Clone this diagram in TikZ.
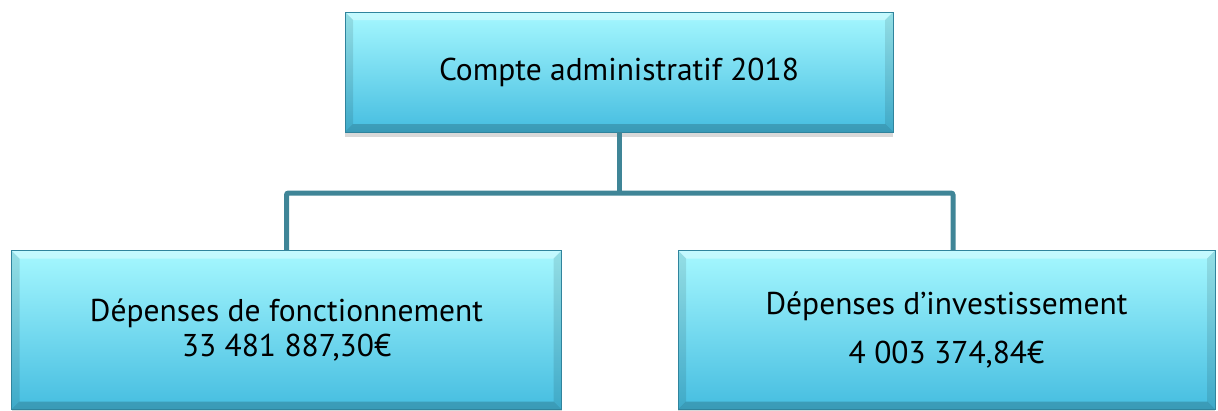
\documentclass[tikz,border=0pt]{standalone}
\usepackage{fontspec}
\setmainfont{PT Sans}
\usepackage{tikz}
\usetikzlibrary{calc}
\usetikzlibrary{shadows}
\definecolor{boxtop}{HTML}{A6F8FF}
\definecolor{boxbot}{HTML}{45BDE0}
\definecolor{linkcol}{HTML}{3F8597}
\tikzset{ budget/.style = {rectangle, draw=boxbot!70!black, line width=0.5pt,
  top color=boxtop, bottom color=boxbot, align=center, inner sep=0pt,
  font=\fontsize{31.5}{35}\selectfont,
  drop shadow={opacity=0.3, shadow xshift=0pt, shadow yshift=-5pt},
  path picture={
    \fill[white,opacity=0.35] (path picture bounding box.north west) -- (path picture bounding box.north east)
      -- ($(path picture bounding box.north east)+(-8,8)$) -- ($(path picture bounding box.north west)+(8,8)$) -- cycle;
    \fill[black,opacity=0.18] (path picture bounding box.south west) -- (path picture bounding box.south east)
      -- ($(path picture bounding box.south east)+(-8,-8)$) -- ($(path picture bounding box.south west)+(8,-8)$) -- cycle;
    \fill[black,opacity=0.1] (path picture bounding box.north west) -- ($(path picture bounding box.north west)+(8,8)$)
      -- ($(path picture bounding box.south west)+(8,-8)$) -- (path picture bounding box.south west) -- cycle;
    \fill[black,opacity=0.1] (path picture bounding box.north east) -- ($(path picture bounding box.north east)+(-8,8)$)
      -- ($(path picture bounding box.south east)+(-8,-8)$) -- (path picture bounding box.south east) -- cycle;
  }} }
\tikzset{ link/.style = {draw=linkcol, line width=5pt} }

\begin{document}
\begin{tikzpicture}[x=1pt,y=-1pt]
  \useasboundingbox (0,0) rectangle (1218,410);
  \node [style=budget, minimum width=548pt, minimum height=120pt] (CA) at (619,72) {Compte administratif 2018};
  \node [style=budget, minimum width=550pt, minimum height=159pt] (DF) at (286.5,330) {Dépenses de fonctionnement\\33 481 887,30€};
  \node [style=budget, minimum width=537pt, minimum height=159pt] (DI) at (946.5,330) {Dépenses d’investissement\\[14pt]4 003 374,84€};
  \coordinate (bar) at (620,193);
  \draw[link] (CA.south) -- (CA.south |- bar);
  \draw[link, rounded corners=2pt] (DF.north) -- (DF.north |- bar) -- ($(DI.north |- bar)+(6.5,0)$) -- ($(DI.north)+(6.5,0)$);
\end{tikzpicture}
\end{document}
